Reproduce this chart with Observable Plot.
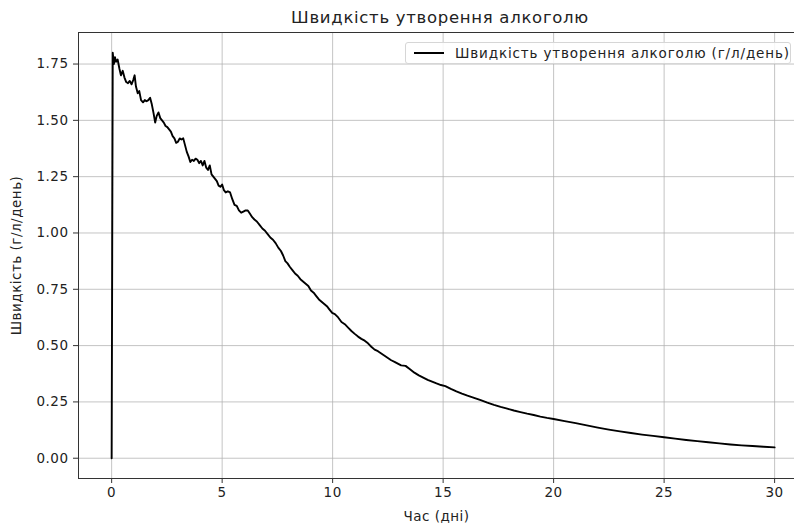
<!DOCTYPE html>
<html>
<head>
<meta charset="utf-8">
<script src="https://cdn.jsdelivr.net/npm/d3@7"></script>
<script src="https://cdn.jsdelivr.net/npm/@observablehq/plot@0.6"></script>
<style>
  html, body { margin: 0; padding: 0; background: white; }
  #wrap { position: relative; width: 794px; height: 526px; overflow: hidden; font-family: "DejaVu Sans", sans-serif; }
  #title { position: absolute; left: 0; top: 0; width: 794px; height: 26px; padding-left: 86px; box-sizing: border-box;
           text-align: center; font-size: 16.5px; line-height: 36px; color: #222; letter-spacing: 0.7px; }
  #chart { position: absolute; left: 0; top: 26px; }
  #legend { position: absolute; left: 405px; top: 42px; width: 386px; height: 22px; box-sizing: border-box;
            border: 1px solid #d6d6d6; border-radius: 3px; background: rgba(255,255,255,0.85);
            font-size: 13.5px; color: #222; display: flex; align-items: center; letter-spacing: 0.85px; white-space: nowrap; }
  #legend .sw { display: inline-block; width: 30px; height: 0; border-top: 2px solid #000; margin-left: 8px; margin-right: 11px; }
</style>
</head>
<body>
<div id="wrap">
  <div id="title">Швидкість утворення алкоголю</div>
  <div id="chart"></div>
  <div id="legend"><span class="sw"></span><span>Швидкість утворення алкоголю (г/л/день)</span></div>
</div>
<script>
const times = [
  0, 0.05, 0.1, 0.15, 0.2, 0.27, 0.35, 0.42, 0.5, 0.58, 0.66, 0.74, 0.82, 0.9, 0.98, 1.04, 1.1, 1.18, 1.25, 1.33,
  1.42, 1.5, 1.58, 1.66, 1.74, 1.82, 1.9, 1.97, 2.04, 2.12, 2.2, 2.28, 2.36, 2.44, 2.52, 2.6, 2.68, 2.76, 2.84, 2.92,
  3.0, 3.08, 3.16, 3.24, 3.32, 3.4, 3.48, 3.56, 3.64, 3.72, 3.8, 3.88, 3.96, 4.04, 4.12, 4.2, 4.28, 4.36, 4.44, 4.52,
  4.6, 4.68, 4.76, 4.84, 4.92, 5.0, 5.08, 5.16, 5.26, 5.36, 5.46, 5.56, 5.66, 5.76, 5.86, 5.96, 6.06, 6.16, 6.26, 6.36,
  6.46, 6.58, 6.7, 6.82, 6.94, 7.06, 7.18, 7.3, 7.42, 7.54, 7.66, 7.76, 7.86, 7.96, 8.06, 8.18, 8.3, 8.42, 8.54, 8.66,
  8.78, 8.9, 9.02, 9.14, 9.26, 9.38, 9.5, 9.62, 9.74, 9.86, 9.98, 10.1, 10.25, 10.4, 10.55, 10.7, 10.85, 11.0, 11.15, 11.3,
  11.45, 11.6, 11.75, 11.9, 12.05, 12.2, 12.35, 12.5, 12.65, 12.8, 12.95, 13.1, 13.3, 13.5, 13.7, 13.9, 14.1, 14.3, 14.5, 14.7,
  14.9, 15.1, 15.35, 15.6, 15.85, 16.1, 16.4, 16.7, 17.0, 17.3, 17.6, 17.9, 18.2, 18.5, 18.8, 19.1, 19.4, 19.7, 20.0, 20.5,
  21.0, 21.5, 22.0, 22.5, 23.0, 23.5, 24.0, 24.5, 25.0, 25.5, 26.0, 26.5, 27.0, 27.5, 28.0, 28.5, 29.0, 29.5, 30.0
];
const rates = [
  0, 1.80, 1.75, 1.78, 1.76, 1.77, 1.73, 1.70, 1.72, 1.69, 1.67, 1.665, 1.675, 1.66, 1.68, 1.70, 1.65, 1.62, 1.63, 1.59,
  1.58, 1.59, 1.585, 1.59, 1.60, 1.57, 1.53, 1.49, 1.52, 1.535, 1.51, 1.50, 1.49, 1.475, 1.47, 1.46, 1.45, 1.43, 1.42, 1.40,
  1.405, 1.42, 1.415, 1.42, 1.39, 1.36, 1.34, 1.315, 1.325, 1.32, 1.33, 1.325, 1.31, 1.32, 1.30, 1.32, 1.29, 1.28, 1.30, 1.26,
  1.25, 1.24, 1.23, 1.21, 1.205, 1.215, 1.19, 1.18, 1.185, 1.18, 1.15, 1.125, 1.12, 1.10, 1.09, 1.095, 1.10, 1.10, 1.085, 1.07,
  1.06, 1.05, 1.035, 1.02, 1.01, 0.995, 0.98, 0.97, 0.955, 0.935, 0.92, 0.90, 0.875, 0.865, 0.85, 0.835, 0.82, 0.81, 0.795, 0.785,
  0.775, 0.765, 0.745, 0.735, 0.72, 0.705, 0.695, 0.685, 0.675, 0.66, 0.645, 0.64, 0.625, 0.605, 0.595, 0.58, 0.565, 0.552, 0.54, 0.53,
  0.522, 0.51, 0.495, 0.482, 0.475, 0.465, 0.455, 0.445, 0.435, 0.428, 0.42, 0.412, 0.41, 0.395, 0.38, 0.368, 0.358, 0.348, 0.34, 0.332,
  0.325, 0.32, 0.308, 0.297, 0.287, 0.278, 0.268, 0.258, 0.247, 0.237, 0.228, 0.22, 0.212, 0.205, 0.198, 0.192, 0.185, 0.179, 0.174, 0.165,
  0.156, 0.146, 0.136, 0.127, 0.119, 0.112, 0.105, 0.099, 0.093, 0.087, 0.081, 0.076, 0.071, 0.066, 0.061, 0.057, 0.054, 0.051, 0.048
];
const xTicks = [0, 5, 10, 15, 20, 25, 30];
const yTicks = [0, 0.25, 0.5, 0.75, 1.0, 1.25, 1.5, 1.75];
const xDomain = [-1.5, 30.9];
const yDomain = [-0.09, 1.89];

const data = times.map((t, i) => ({t, r: rates[i]}));

const chart = Plot.plot({
  width: 794,
  height: 500,
  marginLeft: 78,
  marginRight: 0,
  marginTop: 6,
  marginBottom: 48,
  style: {fontFamily: "DejaVu Sans, sans-serif", fontSize: "13.5px", color: "#222", background: "white", letterSpacing: "0.5px"},
  x: {domain: xDomain},
  y: {domain: yDomain},
  marks: [
    Plot.gridX(xTicks, {stroke: "#b0b0b0", strokeOpacity: 0.75, strokeWidth: 1}),
    Plot.gridY(yTicks, {stroke: "#b0b0b0", strokeOpacity: 0.75, strokeWidth: 1}),
    Plot.lineY(data, {x: "t", y: "r", stroke: "black", strokeWidth: 1.9}),
    Plot.ruleX([xDomain[0]], {stroke: "#333", strokeWidth: 1}),
    Plot.ruleY([yDomain[0], yDomain[1]], {stroke: "#333", strokeWidth: 1}),
    Plot.axisX(xTicks, {tickSize: 5, tickPadding: 4, tickFormat: d => String(d), label: "Час (дні)", labelAnchor: "center", labelArrow: "none", labelOffset: 42, stroke: "#333"}),
    Plot.axisY(yTicks, {tickSize: 5, tickPadding: 5, tickFormat: d3.format(".2f"), label: "Швидкість (г/л/день)", labelAnchor: "center", labelArrow: "none", labelOffset: 67, stroke: "#333"})
  ]
});
document.getElementById("chart").appendChild(chart);
</script>
</body>
</html>
